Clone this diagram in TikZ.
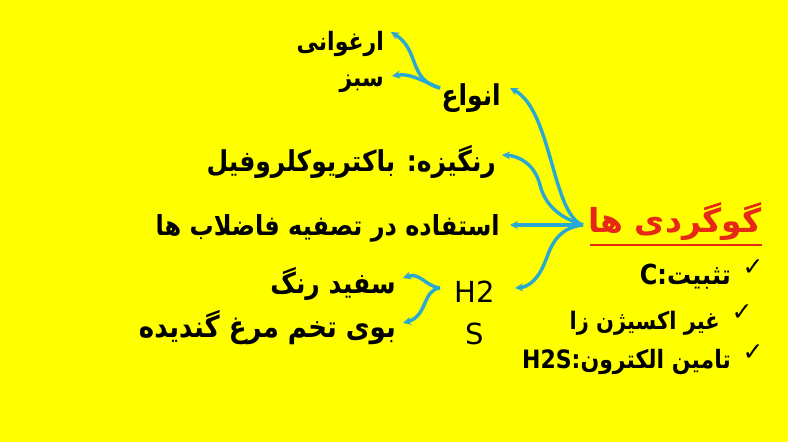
\documentclass[tikz,border=0pt]{standalone}
\usepackage{fontspec}
\usepackage{graphicx}
\usetikzlibrary{arrows.meta}
\TeXXeTstate=1
\newfontfamily\arfont[Script=Arabic]{DejaVu Sans}
\newfontfamily\latfont{DejaVu Sans}
\definecolor{bg}{RGB}{255,255,0}
\definecolor{arrc}{RGB}{40,168,210}
\definecolor{titlered}{RGB}{230,40,20}
\newcommand{\fsz}[1]{\fontsize{#1}{#1}\selectfont}
\newcommand{\tallbox}[1]{\scalebox{1}[1.15]{#1}}
\tikzset{
  fa/.style={font=\arfont\bfseries, text=black, inner sep=0pt, anchor=east},
  chem/.style={font=\latfont\fontsize{29}{32}\selectfont, inner sep=0pt},
  tick/.style={font=\latfont\fontsize{25}{26}\selectfont, inner sep=0pt},
  arr/.style={draw=arrc, line width=3.4pt, -{Stealth[length=8pt,width=8pt]}},
}
\begin{document}
\begin{tikzpicture}[x=1pt,y=-1pt]
\fill[bg] (0,0) rectangle (788,442);
\useasboundingbox (0,0) rectangle (788,442);

% text nodes
\node[fa] (argh) at (384,44) {\tallbox{\fsz{22}\beginR ارغوانی\endR}};
\node[fa] (sabz) at (384,84) {\tallbox{\fsz{22}\beginR سبز\endR}};
\node[fa] (anwa) at (501,98) {\tallbox{\fsz{25}\beginR انواع\endR}};
\node[fa] (rang) at (496,162) {\tallbox{\fsz{25}\beginR رنگیزه: باکتریوکلروفیل\endR}};
\node[fa] (estf) at (500,228) {\tallbox{\fsz{24}\beginR استفاده در تصفیه فاضلاب ها\endR}};
\node[fa] (sefid) at (396,284) {\tallbox{\fsz{25}\beginR سفید رنگ\endR}};
\node[fa] (booy) at (396,328) {\tallbox{\fsz{26}\beginR بوی تخم مرغ گندیده\endR}};
\node[chem] (h2) at (475,292) {H2};
\node[chem] (s) at (475,334) {S};

% title
\node[font=\arfont\bfseries\fontsize{33}{36}\selectfont, text=titlered, inner sep=0pt] (title) at (675,222) {\beginR گوگردی ها\endR};
\coordinate (ul1) at (590,245);
\coordinate (ul2) at (762,245);
\draw[titlered, line width=2.2pt] (ul1) -- (ul2);

% checks
\node[tick] (c1) at (753,268) {✓};
\node[tick] (c2) at (742,313) {✓};
\node[tick] (c3) at (753,353) {✓};
\node[fa] (tsb) at (731,277) {\tallbox{\fsz{24}\beginR تثبیت:C\endR}};
\node[fa] (ghe) at (720,323) {\tallbox{\fsz{21}\beginR غیر اکسیژن زا\endR}};
\node[fa] (tam) at (731,362) {\tallbox{\fsz{22}\beginR تامین الکترون:\beginL H2S\endL\endR}};

% hubs and tips
\coordinate (hub) at (583,225);
\coordinate (tA) at (510,88);
\coordinate (tB) at (502,155);
\coordinate (tC) at (510,225);
\coordinate (tD) at (515,288);
\coordinate (hubU) at (440,88);
\coordinate (tU1) at (391,32);
\coordinate (tU2) at (392,76);
\coordinate (hubL) at (440,288);
\coordinate (tL1) at (403,278);
\coordinate (tL2) at (403,323);

\draw[arr] (hub) .. controls (552,215) and (552,110) .. (tA);
\draw[arr] (hub) .. controls (560,218) and (545,205) .. (540,185) .. controls (535,165) and (520,156) .. (tB);
\draw[arr] (hub) -- (tC);
\draw[arr] (hub) .. controls (555,228) and (550,250) .. (545,262) .. controls (538,280) and (528,287) .. (tD);

\draw[arr] (hubU) .. controls (408,80) and (420,50) .. (tU1);
\draw[arr] (hubU) .. controls (420,80) and (410,73) .. (tU2);

\draw[arr] (hubL) .. controls (425,286) and (420,272) .. (tL1);
\draw[arr] (hubL) .. controls (422,290) and (428,316) .. (tL2);
\end{tikzpicture}
\end{document}
